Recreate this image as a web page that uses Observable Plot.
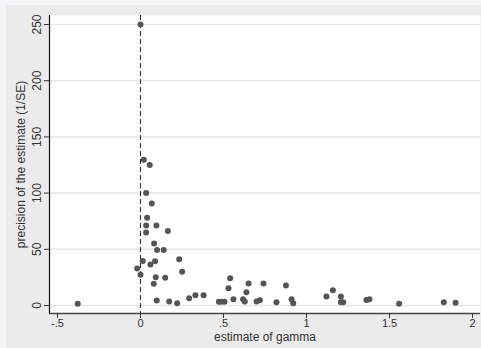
<!DOCTYPE html>
<html>
<head>
<meta charset="utf-8">
<script src="https://cdn.jsdelivr.net/npm/d3@7"></script>
<script src="https://cdn.jsdelivr.net/npm/@observablehq/plot@0.6"></script>
<style>
  html, body { margin: 0; padding: 0; background: #f4f5f7; }
  #wrap { position: relative; width: 481px; height: 348px; overflow: hidden; }
  #panel { position: absolute; left: 6px; top: 5px; width: 475px; height: 343px; background: #ebebeb; }
  #chart { position: absolute; left: 0; top: 0; }
</style>
</head>
<body>
<div id="wrap"><div id="panel"></div><div id="chart"></div></div>
<script>
const gamma = [0, 0.02, 0.056, 0.034, 0.068, 0.04, 0.034, 0.096, 0.034, 0.165,
  0.082, 0.1, 0.14, 0.014, 0.088, 0.06, 0.233, -0.02, 0, 0.092,
  0.149, 0.251, 0.08, 0.098, 0.173, 0.221, 0.293, 0.331, 0.38, 0.472,
  0.486, 0.506, 0.54, 0.53, 0.56, 0.618, 0.628, 0.638, 0.651, 0.699,
  0.719, 0.741, 0.819, 0.876, 0.91, 0.92, 1.12, 1.159, 1.207, 1.207,
  1.221, 1.361, 1.379, 1.558, 1.827, 1.898, -0.378];
const precision = [250, 129.6, 124.9, 100, 90.7, 78, 71.2, 71.2, 65, 66.4,
  55.2, 49.5, 49.5, 39.7, 39.4, 36.5, 41.2, 32.9, 27.3, 25.2,
  24.6, 30, 19.3, 4.4, 3.6, 2.1, 6.5, 9.2, 9.2, 3.3,
  3.3, 3.3, 24.3, 15.4, 5.6, 5.6, 3.6, 11.9, 19.6, 3.6,
  4.7, 19.6, 3, 17.8, 5.6, 2.1, 8, 13.6, 8, 3,
  3, 5, 5.6, 1.5, 3, 2.4, 1.5];
const xTicks = [-0.5, 0, 0.5, 1, 1.5, 2];
const yTicks = [0, 50, 100, 150, 200, 250];
const xTitle = "estimate of gamma";
const yTitle = "precision of the estimate (1/SE)";

const data = gamma.map((g, i) => ({g, p: precision[i]}));
const xDomain = [-0.548, 2.048];
const yDomain = [-7.1, 258];
const fmt = d => String(d).replace(/^(-?)0\./, "$1.");

const chart = Plot.plot({
  width: 481,
  height: 348,
  marginLeft: 49,
  marginRight: 1,
  marginTop: 15,
  marginBottom: 35,
  style: {background: "transparent", fontFamily: "'Liberation Sans', Arial, sans-serif", fontSize: "11px", color: "#333"},
  x: {domain: xDomain},
  y: {domain: yDomain},
  marks: [
    Plot.frame({fill: "white", stroke: null}),
    Plot.gridY(yTicks, {stroke: "#e6e6e6", strokeOpacity: 1, strokeWidth: 1.5}),
    Plot.ruleX([0], {stroke: "#222", strokeDasharray: "5,3", strokeWidth: 1}),
    Plot.dot(data, {x: "g", y: "p", r: 3, fill: "#555", stroke: null}),
    Plot.ruleX([xDomain[0]], {stroke: "#111", strokeWidth: 1.2}),
    Plot.ruleY([yDomain[0]], {stroke: "#444", strokeWidth: 1.5}),
    Plot.axisX({ticks: xTicks, tickFormat: fmt, tickSize: 5, tickPadding: 1, label: null, fontSize: 11}),
    Plot.axisY({ticks: yTicks, tickSize: 5, tickPadding: 4, tickRotate: -90, textAnchor: "middle", lineAnchor: "bottom", label: null, fontSize: 12}),
    Plot.text([xTitle], {frameAnchor: "bottom", textAnchor: "middle", dy: 27, fontSize: 12, fill: "#333"}),
    Plot.text([yTitle], {frameAnchor: "left", textAnchor: "middle", rotate: -90, dx: -28, fontSize: 12, fill: "#333"})
  ]
});
document.getElementById("chart").appendChild(chart);
</script>
</body>
</html>
